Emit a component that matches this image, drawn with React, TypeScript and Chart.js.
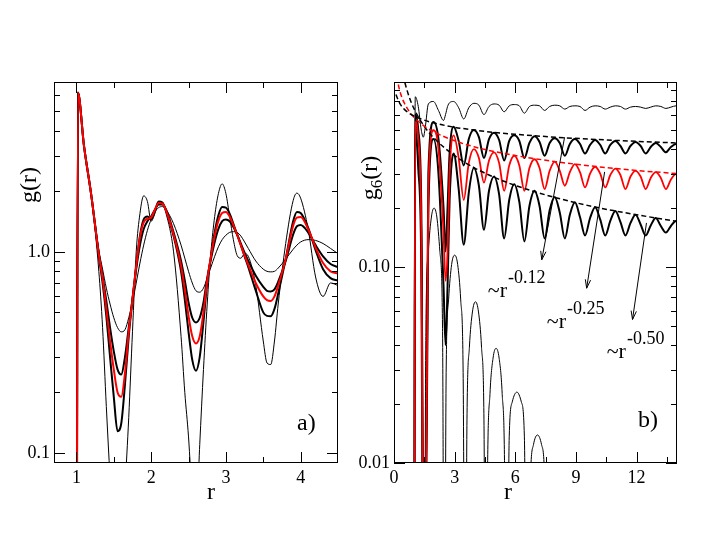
import React, { useEffect, useRef } from "react";
import { Chart, registerables } from "chart.js";

Chart.register(...registerables);

const SERIF = "'Liberation Serif', 'Times New Roman', Times, serif";

// ---------------- Panel a) g(r) ----------------
const rA = [1.0, 1.02, 1.1, 1.2, 1.3, 1.35, 1.4, 1.45, 1.5, 1.55, 1.6, 1.65, 1.7, 1.75, 1.8, 1.85, 1.9, 1.95, 2.0, 2.05, 2.1, 2.15, 2.2, 2.3, 2.4, 2.45, 2.5, 2.55, 2.6, 2.65, 2.7, 2.75, 2.8, 2.85, 2.9, 2.95, 3.0, 3.05, 3.1, 3.15, 3.2, 3.25, 3.3, 3.4, 3.5, 3.55, 3.6, 3.65, 3.7, 3.8, 3.9, 3.95, 4.0, 4.1, 4.2, 4.3, 4.4, 4.5];
// thin, most structured
const gA1 = [0.001, 6.2, 3.4, 1.9, 0.8, 0.42, 0.17, 0.075, 0.035, 0.022, 0.025, 0.065, 0.15, 0.4, 1.0, 1.55, 1.9, 1.78, 1.42, 1.55, 1.76, 1.74, 1.55, 1.0, 0.38, 0.2, 0.12, 0.06, 0.045, 0.11, 0.26, 0.55, 1.0, 1.5, 1.95, 2.18, 1.95, 1.5, 1.15, 0.96, 0.93, 0.98, 0.95, 0.68, 0.36, 0.28, 0.275, 0.36, 0.55, 1.1, 1.8, 1.96, 1.85, 1.3, 0.75, 0.6, 0.7, 0.68];
// bold, deep minima
const gA2 = [0.001, 6.2, 3.4, 1.9, 0.95, 0.7, 0.48, 0.3, 0.19, 0.128, 0.14, 0.22, 0.38, 0.58, 0.85, 1.2, 1.45, 1.5, 1.45, 1.6, 1.78, 1.76, 1.6, 1.2, 0.8, 0.58, 0.4, 0.29, 0.256, 0.3, 0.45, 0.7, 0.95, 1.25, 1.52, 1.67, 1.66, 1.55, 1.38, 1.22, 1.08, 0.95, 0.84, 0.64, 0.5, 0.48, 0.478, 0.52, 0.62, 0.92, 1.42, 1.58, 1.56, 1.32, 1.02, 0.82, 0.74, 0.72];
// red
const gA3 = [0.001, 6.2, 3.4, 1.9, 0.97, 0.74, 0.52, 0.36, 0.26, 0.2, 0.19, 0.25, 0.4, 0.58, 0.85, 1.18, 1.4, 1.46, 1.48, 1.62, 1.75, 1.74, 1.6, 1.22, 0.85, 0.65, 0.48, 0.38, 0.35, 0.38, 0.5, 0.72, 0.95, 1.2, 1.43, 1.56, 1.58, 1.5, 1.36, 1.22, 1.08, 0.96, 0.86, 0.7, 0.6, 0.575, 0.57, 0.6, 0.68, 0.92, 1.35, 1.48, 1.49, 1.3, 1.05, 0.88, 0.8, 0.78];
// bold, shallower minima
const gA4 = [0.001, 6.2, 3.4, 1.9, 0.98, 0.76, 0.57, 0.42, 0.32, 0.26, 0.245, 0.3, 0.42, 0.58, 0.82, 1.08, 1.3, 1.42, 1.5, 1.62, 1.72, 1.72, 1.62, 1.25, 0.9, 0.72, 0.56, 0.47, 0.445, 0.47, 0.56, 0.74, 0.92, 1.12, 1.3, 1.42, 1.45, 1.42, 1.33, 1.22, 1.1, 0.99, 0.9, 0.76, 0.67, 0.64, 0.635, 0.65, 0.71, 0.9, 1.22, 1.34, 1.36, 1.25, 1.08, 0.95, 0.87, 0.84];
// thin, smoothest
const gA5 = [0.001, 6.2, 3.4, 1.9, 1.02, 0.82, 0.66, 0.55, 0.47, 0.42, 0.4, 0.41, 0.47, 0.56, 0.7, 0.88, 1.08, 1.28, 1.45, 1.58, 1.66, 1.68, 1.62, 1.38, 1.08, 0.93, 0.8, 0.7, 0.64, 0.63, 0.66, 0.74, 0.84, 0.95, 1.06, 1.15, 1.21, 1.25, 1.26, 1.25, 1.2, 1.12, 1.04, 0.9, 0.82, 0.8, 0.795, 0.8, 0.83, 0.92, 1.03, 1.08, 1.12, 1.15, 1.14, 1.1, 1.04, 0.98];

const aXTicks = [1, 2, 3, 4];
const aXLabels = ["1", "2", "3", "4"];
const aXMinor = [1.5, 2.5, 3.5];
const aYTicks = [0.1, 1];
const aYLabels = ["0.1", "1.0"];
const aYMinor = [0.2, 0.3, 0.4, 0.5, 0.6, 0.7, 0.8, 0.9, 2, 3, 4, 5, 6];

// ---------------- Panel b) g6(r) ----------------
const rB = [1.0, 1.05, 1.2, 1.35, 1.45, 1.55, 1.7, 1.95, 2.2, 2.45, 2.55, 2.65, 2.75, 2.95, 3.2, 3.45, 3.7, 3.95, 4.2, 4.45, 4.7, 4.95, 5.2, 5.45, 5.7, 5.95, 6.2, 6.45, 6.7, 6.95, 7.2, 7.45, 7.7, 7.95, 8.2, 8.45, 8.7, 8.95, 9.2, 9.45, 9.7, 9.95, 10.2, 10.45, 10.7, 10.95, 11.2, 11.45, 11.7, 11.95, 12.2, 12.45, 12.7, 12.95, 13.2, 13.45, 13.7, 13.95, 14.0];
// thin top (solid-like)
const gB1 = [0.001, 0.74, 0.66, 0.5, 0.46, 0.52, 0.68, 0.7, 0.63, 0.56, 0.6, 0.66, 0.69, 0.7, 0.65, 0.57, 0.65, 0.685, 0.67, 0.6, 0.66, 0.68, 0.67, 0.62, 0.665, 0.675, 0.665, 0.61, 0.66, 0.67, 0.665, 0.63, 0.66, 0.67, 0.665, 0.64, 0.66, 0.665, 0.66, 0.63, 0.655, 0.665, 0.66, 0.64, 0.655, 0.665, 0.66, 0.64, 0.655, 0.66, 0.655, 0.645, 0.655, 0.665, 0.66, 0.645, 0.655, 0.665, 0.665];
// bold upper (~r^-0.12)
const gB2 = [0.001, 0.6, 0.5, 0.2, 0.004, 0.004, 0.3, 0.55, 0.45, 0.2, 0.12, 0.2, 0.38, 0.52, 0.44, 0.33, 0.45, 0.5, 0.46, 0.36, 0.45, 0.485, 0.445, 0.35, 0.44, 0.47, 0.44, 0.36, 0.43, 0.465, 0.435, 0.37, 0.43, 0.455, 0.43, 0.37, 0.425, 0.45, 0.425, 0.38, 0.42, 0.445, 0.42, 0.38, 0.42, 0.44, 0.415, 0.38, 0.415, 0.435, 0.415, 0.38, 0.41, 0.43, 0.41, 0.385, 0.41, 0.425, 0.425];
// red (~r^-0.25)
const gB3 = [0.001, 0.55, 0.45, 0.15, 0.003, 0.003, 0.25, 0.5, 0.4, 0.15, 0.085, 0.12, 0.3, 0.47, 0.36, 0.22, 0.34, 0.4, 0.36, 0.27, 0.35, 0.385, 0.34, 0.245, 0.33, 0.37, 0.33, 0.245, 0.32, 0.355, 0.32, 0.25, 0.31, 0.345, 0.31, 0.26, 0.305, 0.335, 0.305, 0.255, 0.3, 0.325, 0.3, 0.255, 0.295, 0.318, 0.295, 0.25, 0.29, 0.31, 0.29, 0.25, 0.285, 0.305, 0.285, 0.25, 0.28, 0.298, 0.298];
// bold lower (~r^-0.50)
const gB4 = [0.001, 0.5, 0.32, 0.1, 0.002, 0.002, 0.2, 0.45, 0.3, 0.08, 0.04, 0.08, 0.22, 0.38, 0.25, 0.13, 0.24, 0.32, 0.26, 0.155, 0.245, 0.29, 0.235, 0.14, 0.22, 0.265, 0.215, 0.135, 0.205, 0.245, 0.205, 0.14, 0.195, 0.228, 0.19, 0.14, 0.185, 0.214, 0.18, 0.145, 0.178, 0.202, 0.175, 0.145, 0.172, 0.193, 0.17, 0.145, 0.168, 0.185, 0.165, 0.145, 0.163, 0.178, 0.162, 0.15, 0.162, 0.172, 0.172];
// thin, decaying (liquid)
const rB5 = [1.0, 1.05, 1.15, 1.28, 1.4, 1.48, 1.58, 1.7, 1.85, 1.98, 2.12, 2.27, 2.4, 2.49, 2.58, 2.7, 2.85, 3.0, 3.15, 3.3, 3.42, 3.52, 3.61, 3.73, 3.88, 4.03, 4.18, 4.33, 4.45, 4.54, 4.63, 4.75, 4.9, 5.05, 5.2, 5.35, 5.47, 5.56, 5.7, 5.85, 6.08, 6.3, 6.45, 6.58, 6.75, 6.9, 7.1, 7.3, 7.45, 7.6];
const gB5 = [0.0005, 0.6, 0.45, 0.25, 0.08, 0.0005, 0.05, 0.12, 0.18, 0.2, 0.18, 0.12, 0.05, 0.0005, 0.029, 0.068, 0.103, 0.115, 0.103, 0.068, 0.029, 0.0005, 0.0166, 0.039, 0.059, 0.0665, 0.059, 0.039, 0.0166, 0.0005, 0.0096, 0.0227, 0.0343, 0.0385, 0.0343, 0.0227, 0.0096, 0.0005, 0.0136, 0.0205, 0.023, 0.0205, 0.0136, 0.0005, 0.0084, 0.0124, 0.0139, 0.0124, 0.0084, 0.0005];
// dashed fit lines
const rFit = [0.1, 0.15, 0.2, 0.3, 0.4, 0.5, 0.75, 1, 1.5, 2, 3, 4, 5, 6, 8, 10, 12, 14];
const fit012 = [0.76, 0.735, 0.716, 0.68, 0.658, 0.64, 0.61, 0.59, 0.562, 0.543, 0.517, 0.5, 0.486, 0.476, 0.46, 0.448, 0.438, 0.43];
const fit025 = [1.03, 0.93, 0.867, 0.784, 0.729, 0.69, 0.623, 0.58, 0.524, 0.488, 0.441, 0.41, 0.388, 0.371, 0.345, 0.326, 0.311, 0.3];
const fit050 = [2.02, 1.65, 1.43, 1.17, 1.01, 0.905, 0.739, 0.64, 0.522, 0.453, 0.37, 0.32, 0.286, 0.261, 0.226, 0.202, 0.185, 0.171];

const bXTicks = [0, 3, 6, 9, 12];
const bXLabels = ["0", "3", "6", "9", "12"];
const bXMinor = [1.5, 4.5, 7.5, 10.5, 13.5];
const bYTicks = [0.01, 0.1];
const bYLabels = ["0.01", "0.10"];
const bYMinor = [0.02, 0.03, 0.04, 0.05, 0.06, 0.07, 0.08, 0.09, 0.2, 0.3, 0.4, 0.5, 0.6, 0.7, 0.8];

// annotations (data coordinates of panel b): arrow start r, g, arrow end r, g, label anchor r, g, exponent
const annR0 = [8.44, 10.42, 12.49];
const annG0 = [0.46, 0.306, 0.168];
const annR1 = [7.31, 9.53, 11.8];
const annG1 = [0.109, 0.078, 0.054];
const annLabelR = [4.64, 7.56, 10.52];
const annLabelG = [0.0703, 0.0488, 0.0343];
const annExp = ["-0.12", "-0.25", "-0.50"];

const pts = (xs: number[], ys: number[]) => xs.map((x, i) => ({ x, y: ys[i] }));
const line = (data: any, color: string, width: number, dash: number[] = []) => ({
  data,
  borderColor: color,
  borderWidth: width,
  borderDash: dash,
  pointRadius: 0,
  fill: false,
  cubicInterpolationMode: "monotone" as const,
});

function axis(type: string, min: number, max: number, major: number[], labels: string[], size: (s: any) => void) {
  return {
    type,
    min,
    max,
    grid: { display: false, drawTicks: false },
    border: { display: false },
    ticks: {
      autoSkip: false,
      maxRotation: 0,
      padding: 4,
      color: "#000",
      font: { family: SERIF, size: 18 },
      callback: (_v: any, i: number) => labels[i],
    },
    afterBuildTicks: (s: any) => {
      s.ticks = major.map((value) => ({ value }));
    },
    afterFit: size,
  };
}

function tickPlugin(xMajor: number[], xMinor: number[], yMajor: number[], yMinor: number[]) {
  return {
    id: "frameTicks",
    afterDatasetsDraw(chart: any) {
      const { ctx, chartArea: ca, scales } = chart;
      const xs = scales.x;
      const ys = scales.y;
      ctx.save();
      ctx.strokeStyle = "#000";
      ctx.lineWidth = 1;
      const seg = (x1: number, y1: number, x2: number, y2: number) => {
        ctx.beginPath();
        ctx.moveTo(x1, y1);
        ctx.lineTo(x2, y2);
        ctx.stroke();
      };
      const L = 11;
      const S = 6;
      xMajor.forEach((v) => {
        const p = Math.round(xs.getPixelForValue(v)) + 0.5;
        seg(p, ca.bottom, p, ca.bottom - L);
        seg(p, ca.top, p, ca.top + L);
      });
      xMinor.forEach((v) => {
        const p = Math.round(xs.getPixelForValue(v)) + 0.5;
        seg(p, ca.bottom, p, ca.bottom - S);
        seg(p, ca.top, p, ca.top + S);
      });
      yMajor.forEach((v) => {
        const p = Math.round(ys.getPixelForValue(v)) + 0.5;
        seg(ca.left, p, ca.left + L, p);
        seg(ca.right, p, ca.right - L, p);
      });
      yMinor.forEach((v) => {
        const p = Math.round(ys.getPixelForValue(v)) + 0.5;
        seg(ca.left, p, ca.left + S, p);
        seg(ca.right, p, ca.right - S, p);
      });
      ctx.strokeRect(ca.left + 0.5, ca.top + 0.5, ca.right - ca.left - 1, ca.bottom - ca.top - 1);
      ctx.restore();
    },
  };
}

function txt(ctx: any, s: string, x: number, y: number, size: number, align = "left", base = "alphabetic") {
  ctx.font = `${size}px ${SERIF}`;
  ctx.textAlign = align;
  ctx.textBaseline = base;
  ctx.fillStyle = "#000";
  ctx.fillText(s, x, y);
}

const decorA = {
  id: "decorA",
  afterDraw(chart: any) {
    const { ctx } = chart;
    ctx.save();
    // y title
    ctx.translate(30, 185);
    ctx.rotate(-Math.PI / 2);
    txt(ctx, "g(r)", 0, 0, 24, "center", "middle");
    ctx.restore();
    ctx.save();
    txt(ctx, "r", 211, 493, 24, "center", "middle");
    txt(ctx, "a)", 297, 430, 24, "left", "alphabetic");
    ctx.restore();
  },
};

const OFFB = 350;
const decorB = {
  id: "decorB",
  afterDraw(chart: any) {
    const { ctx, scales } = chart;
    const xs = scales.x;
    const ys = scales.y;
    ctx.save();
    // y title g_6(r)
    ctx.translate(370 - OFFB, 178);
    ctx.rotate(-Math.PI / 2);
    ctx.font = `24px ${SERIF}`;
    const wg = ctx.measureText("g").width;
    const wr = ctx.measureText("(r)").width;
    ctx.font = `17px ${SERIF}`;
    const w6 = ctx.measureText("6").width;
    const total = wg + w6 + wr;
    let x = -total / 2;
    txt(ctx, "g", x, 7, 24);
    x += wg;
    txt(ctx, "6", x, 12, 17);
    x += w6;
    txt(ctx, "(r)", x, 7, 24);
    ctx.restore();

    ctx.save();
    txt(ctx, "r", 508 - OFFB, 493, 24, "center", "middle");
    txt(ctx, "b)", 638 - OFFB, 427, 24, "left", "alphabetic");
    // arrows
    ctx.strokeStyle = "#000";
    ctx.lineWidth = 1;
    for (let i = 0; i < annR0.length; i++) {
      const x0 = xs.getPixelForValue(annR0[i]);
      const y0 = ys.getPixelForValue(annG0[i]);
      const x1 = xs.getPixelForValue(annR1[i]);
      const y1 = ys.getPixelForValue(annG1[i]);
      ctx.beginPath();
      ctx.moveTo(x0, y0);
      ctx.lineTo(x1, y1);
      ctx.stroke();
      const a = Math.atan2(y1 - y0, x1 - x0);
      const h = 9;
      const sp = 0.3;
      ctx.beginPath();
      ctx.moveTo(x1 - h * Math.cos(a - sp), y1 - h * Math.sin(a - sp));
      ctx.lineTo(x1, y1);
      ctx.lineTo(x1 - h * Math.cos(a + sp), y1 - h * Math.sin(a + sp));
      ctx.stroke();
      // label
      const lx = xs.getPixelForValue(annLabelR[i]);
      const ly = ys.getPixelForValue(annLabelG[i]);
      ctx.font = `22px ${SERIF}`;
      const wl = ctx.measureText("~r").width;
      txt(ctx, "~r", lx, ly, 22);
      txt(ctx, annExp[i], lx + wl + 1, ly - 14, 18);
    }
    ctx.restore();
  },
};

export default function App() {
  const refA = useRef<HTMLCanvasElement>(null);
  const refB = useRef<HTMLCanvasElement>(null);

  useEffect(() => {
    const chartA = new Chart(refA.current as HTMLCanvasElement, {
      type: "line",
      data: {
        datasets: [
          line(pts(rA, gA3), "#ff0000", 2),
          line(pts(rA, gA1), "#000", 1),
          line(pts(rA, gA2), "#000", 2),
          line(pts(rA, gA4), "#000", 2),
          line(pts(rA, gA5), "#000", 1),
        ],
      },
      options: {
        responsive: false,
        animation: false,
        devicePixelRatio: 1,
        layout: { padding: { left: 0, right: 12, top: 82, bottom: 0 } },
        plugins: { legend: { display: false }, tooltip: { enabled: false } },
        scales: {
          x: axis("linear", 0.7, 4.5, aXTicks, aXLabels, (s: any) => { s.height = 82; }),
          y: axis("logarithmic", 0.089, 7, aYTicks, aYLabels, (s: any) => { s.width = 54; }),
        },
      } as any,
      plugins: [tickPlugin(aXTicks, aXMinor, aYTicks, aYMinor), decorA],
    } as any);

    const chartB = new Chart(refB.current as HTMLCanvasElement, {
      type: "line",
      data: {
        datasets: [
          line(pts(rFit, fit012), "#000", 1.5, [5, 3]),
          line(pts(rFit, fit025), "#ff0000", 1.5, [5, 3]),
          line(pts(rFit, fit050), "#000", 1.5, [5, 3]),
          line(pts(rB, gB3), "#ff0000", 1.8),
          line(pts(rB, gB1), "#000", 1),
          line(pts(rB, gB2), "#000", 2),
          line(pts(rB, gB4), "#000", 2),
          line(pts(rB5, gB5), "#000", 1),
        ],
      },
      options: {
        responsive: false,
        animation: false,
        devicePixelRatio: 1,
        layout: { padding: { left: 0, right: 28, top: 82, bottom: 0 } },
        plugins: { legend: { display: false }, tooltip: { enabled: false } },
        scales: {
          x: axis("linear", 0, 14, bXTicks, bXLabels, (s: any) => { s.height = 82; }),
          y: axis("logarithmic", 0.01, 0.88, bYTicks, bYLabels, (s: any) => { s.width = 44; }),
        },
      } as any,
      plugins: [tickPlugin(bXTicks, bXMinor, bYTicks, bYMinor), decorB],
    } as any);

    return () => {
      chartA.destroy();
      chartB.destroy();
    };
  }, []);

  return (
    <div style={{ position: "fixed", left: 0, top: 0, width: 705, height: 545, background: "#fff" }}>
      <canvas ref={refA} width={350} height={545} style={{ position: "absolute", left: 0, top: 0 }} />
      <canvas ref={refB} width={355} height={545} style={{ position: "absolute", left: OFFB, top: 0 }} />
    </div>
  );
}
